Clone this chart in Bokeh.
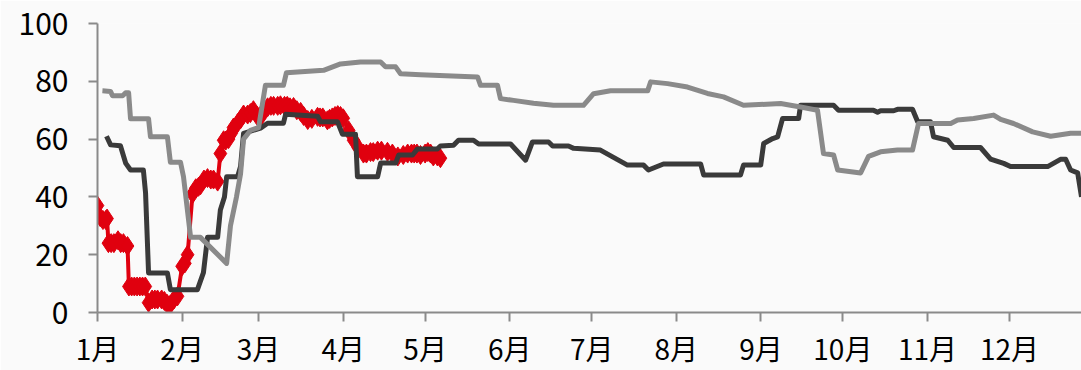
from bokeh.plotting import figure
from bokeh.models import Range1d, FixedTicker
from bokeh.embed import file_html
from bokeh.resources import INLINE

# Day of year (0 = Jan 1) and values
month_labels = ["1月", "2月", "3月", "4月", "5月", "6月", "7月", "8月", "9月", "10月", "11月", "12月"]
month_starts = [0, 31, 59, 90, 120, 151, 181, 212, 243, 273, 304, 334]

light_x = [1.8, 4.8, 5.5, 9.2, 10.3, 11.4, 12.1, 18.7, 19.4, 25.6, 26.7, 30.4, 31.5, 34.1, 37.7,
           47.3, 48.7, 50.9, 52.4, 53.5, 56, 59, 61.5, 68.1, 69.2, 82.8, 89, 96.3, 103.7, 105.5,
           109.2, 111, 118.3, 139.2, 140.3, 146.5, 147.6, 152.4, 159.7, 167, 178, 181.7, 187.9,
           201.5, 202.6, 208.8, 216.1, 223.4, 229.3, 236.6, 250.2, 257.5, 263.7, 265.9, 269.6,
           271.1, 279.5, 282.4, 286.8, 293, 298.5, 300.7, 312.5, 315, 320.9, 328.2, 330.8, 335.5,
           342.5, 349.1, 356.4, 360.4]
light_y = [76.7, 76.5, 75, 75, 76, 76, 67, 67, 60.8, 60.8, 52, 52, 47, 26, 26,
           17, 30, 40, 48, 60, 63, 64, 78.6, 78.6, 83, 83.8, 86, 86.7, 86.7, 85,
           85, 82.6, 82.3, 81.5, 78.6, 78.6, 74, 73.4, 72.4, 71.7, 71.7, 75.7, 76.7,
           76.7, 79.8, 79.2, 78, 75.8, 74.6, 71.7, 72.3, 71.1, 70, 55, 54.5,
           49.3, 48.3, 54, 55.6, 56.2, 56.2, 65.4, 65.4, 66.6, 67.1, 68.3, 66.8, 65.4,
           62.5, 61, 62, 62]

dark_x = [3.3, 4.8, 8.4, 10.3, 12.1, 16.8, 17.6, 18.7, 25.6, 26.7, 36.6, 38.8, 40.3, 44, 45,
          46.5, 47.3, 51.3, 52.4, 53.5, 59.7, 62.3, 68.1, 68.9, 80.6, 81.7, 87.9, 89.7, 94.5,
          95.2, 102.6, 103.7, 109.2, 110.3, 115.4, 117.2, 124.5, 125.6, 130.4, 132.2, 137.7,
          139.6, 151.3, 156.8, 159.3, 165.2, 166.7, 172.5, 174.4, 184.2, 194.1, 200, 201.8,
          207.3, 220.9, 222, 235.5, 236.6, 242.9, 244, 247.3, 249.1, 250.9, 256.8, 257.5,
          269.6, 271.4, 284.2, 285.7, 286.8, 291.6, 293, 298.5, 300.4, 305.1, 306.2, 311.4,
          313.6, 323.4, 327.1, 331.9, 334.4, 348, 352.7, 354.6, 356.4, 359, 360.4]
dark_y = [61, 58, 57.7, 51.7, 49.3, 49.3, 41.4, 13.7, 13.7, 7.9, 7.9, 13.8, 26, 26, 35.5,
          40, 47, 47, 50.5, 62, 63.8, 65.5, 65.5, 68.6, 67.9, 66, 66, 61.7, 61.7,
          47, 47, 51.7, 51.7, 54.5, 54.5, 56.6, 56.6, 57.6, 57.9, 59.6, 59.6,
          58.3, 58.3, 52.7, 59, 59, 57.6, 57.6, 56.8, 56.2, 51, 51, 49.3,
          51.4, 51.4, 47.6, 47.6, 51, 51, 58.5, 60.2, 60.8, 67.1, 67.1, 71.7,
          71.7, 70, 70, 69.3, 69.8, 69.8, 70.3, 70.3, 66, 66, 60.8, 59.6,
          57.1, 57.1, 53.1, 51.6, 50.5, 50.5, 53, 53, 49.3, 48.3, 40]

red_x = [0, 1, 2, 3, 3.5, 4, 5, 6, 7.5, 8.5, 9.5, 11, 11.5, 12.5, 13.5, 14.5, 15.5, 16.5, 17.5,
         18.7, 20, 21, 22, 23.5, 24.5, 25.5, 26.7, 28, 29.3, 31, 32, 33, 34.8, 36, 37, 37.7, 39,
         40.3, 41.5, 42.5, 44, 45, 46.2, 47, 48, 49, 49.8, 51.3, 52.5, 53.5, 55, 56, 57.1, 58.5,
         59.7, 61, 62.3, 63.5, 64.5, 66, 67, 68.5, 69.5, 70.5, 71.8, 73, 74.4, 75.5, 77, 78.5,
         80.6, 81.5, 82.5, 84.2, 85, 86, 87, 88, 89, 90, 92, 93.8, 95.5, 97.4, 98.5, 100, 101,
         102.6, 104, 106.2, 108, 110, 112, 113.6, 115, 116, 117, 118.3, 120, 121, 122, 123, 124.5, 125.6]
red_y = [37, 33, 32, 32, 32.5, 24, 24, 24, 25, 24, 24, 23, 9, 9, 9, 9, 9, 9, 9,
         3.4, 4.5, 4.5, 4.5, 4.5, 4, 3, 2.8, 4.5, 5.6, 16, 17, 20, 41, 43, 43.5, 44, 46,
         46.5, 46, 46, 45.3, 55, 59.6, 59.5, 60, 62, 64, 65.5, 67, 68.5, 68.5, 69, 70, 68,
         67.6, 70, 71, 71.5, 71.5, 71.5, 71.7, 71.5, 71.5, 71, 71.1, 70, 69.4, 68, 66.6, 67,
         67.7, 67.5, 67.5, 66.5, 67, 67.5, 68, 68.3, 68, 67.2, 63, 59.6, 57, 55, 55, 55.5, 55.5,
         56, 56, 55.6, 55, 54, 54.5, 55, 55, 55, 55, 54.5, 55, 55.5, 55, 54, 54, 53.4]

BG = "#FAFAFA"
FONT = "Noto Sans CJK SC"

p = figure(width=1081, height=370, output_backend="svg", toolbar_location=None,
           x_range=Range1d(0, 360.4), y_range=Range1d(0, 100),
           min_border_left=97, min_border_top=23, min_border_right=0, min_border_bottom=57)
p.background_fill_color = BG
p.border_fill_color = BG
p.outline_line_color = None
p.xgrid.visible = False
p.ygrid.visible = False

p.line(red_x, red_y, line_color="#E0000F", line_width=4)
p.scatter(red_x, red_y, marker="diamond", size=19, fill_color="#E0000F", line_color="#E0000F")
p.line(dark_x, dark_y, line_color="#3A3A3A", line_width=5, line_join="round")
p.line(light_x, light_y, line_color="#8A8A8A", line_width=5, line_join="round")

for ax in (p.xaxis[0], p.yaxis[0]):
    ax.axis_line_color = "#8A8A8A"
    ax.axis_line_width = 2
    ax.major_tick_line_color = "#8A8A8A"
    ax.major_tick_line_width = 2
    ax.major_tick_in = 0
    ax.major_tick_out = 9
    ax.minor_tick_line_color = None
    ax.major_label_text_font = FONT
    ax.major_label_text_color = "#000000"

p.yaxis[0].major_label_text_font_size = "30px"
p.xaxis[0].major_label_text_font_size = "28px"
p.yaxis[0].ticker = FixedTicker(ticks=[0, 20, 40, 60, 80, 100])
p.yaxis[0].major_label_standoff = 20
p.xaxis[0].ticker = FixedTicker(ticks=month_starts)
p.xaxis[0].major_label_overrides = {m: lab for m, lab in zip(month_starts, month_labels)}
p.xaxis[0].major_label_standoff = 6

open("out.html", "w").write(file_html(p, INLINE))
